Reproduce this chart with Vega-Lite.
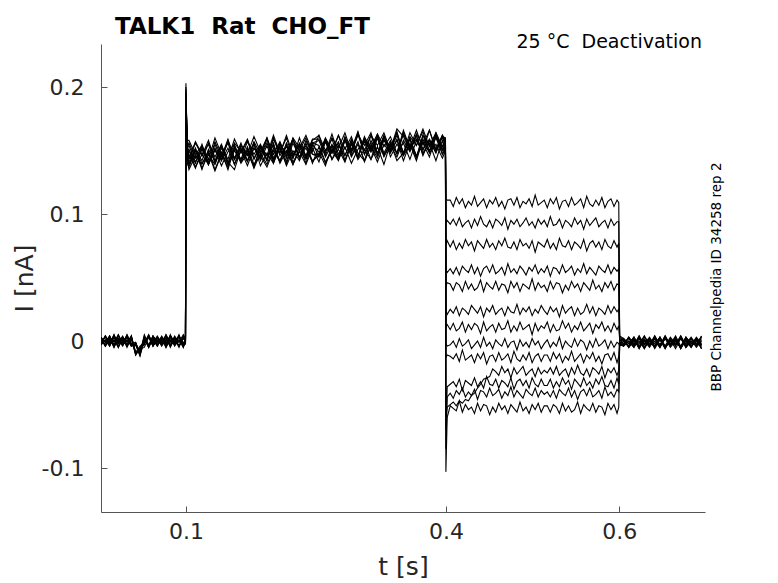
{
  "$schema": "https://vega.github.io/schema/vega-lite/v6.json",
  "width": 604,
  "height": 468,
  "autosize": {"type": "none"},
  "padding": {"left": 101, "top": 44, "right": 73, "bottom": 71},
  "background": "white",
  "title": {
    "text": "TALK1\u00a0 Rat\u00a0 CHO_FT",
    "anchor": "start",
    "frame": "group",
    "dx": 14,
    "dy": 22,
    "offset": 16,
    "font": "DejaVu Sans",
    "fontSize": 23,
    "fontWeight": "bold",
    "color": "#000000"
  },
  "config": {
    "view": {"stroke": null},
    "axis": {
      "grid": false,
      "labelFont": "DejaVu Sans",
      "titleFont": "DejaVu Sans",
      "labelColor": "#262626",
      "titleColor": "#262626",
      "domainColor": "#555555",
      "tickColor": "#555555",
      "titleFontWeight": "normal"
    }
  },
  "datasets": {
    "traces": [
{"s":1,"t":0.002,"i":0.003},{"s":1,"t":0.007,"i":-0.004},{"s":1,"t":0.012,"i":0.002},{"s":1,"t":0.017,"i":-0.005},{"s":1,"t":0.022,"i":0.004},{"s":1,"t":0.027,"i":-0.001},{"s":1,"t":0.032,"i":0.003},{"s":1,"t":0.037,"i":-0.003},{"s":1,"t":0.042,"i":-0.001},{"s":1,"t":0.047,"i":-0.010},{"s":1,"t":0.052,"i":0.001},{"s":1,"t":0.057,"i":-0.004},{"s":1,"t":0.062,"i":0.004},{"s":1,"t":0.067,"i":-0.003},{"s":1,"t":0.072,"i":0.002},{"s":1,"t":0.077,"i":-0.005},{"s":1,"t":0.082,"i":0.003},{"s":1,"t":0.087,"i":-0.001},{"s":1,"t":0.092,"i":0.004},{"s":1,"t":0.097,"i":-0.002},{"s":1,"t":0.0995,"i":0.001},
{"s":1,"t":0.1,"i":0.203},{"s":1,"t":0.1015,"i":0.152},
{"s":1,"t":0.1035,"i":0.154},{"s":1,"t":0.111,"i":0.141},{"s":1,"t":0.1185,"i":0.151},{"s":1,"t":0.126,"i":0.139},{"s":1,"t":0.1335,"i":0.157},{"s":1,"t":0.141,"i":0.145},{"s":1,"t":0.1485,"i":0.159},{"s":1,"t":0.156,"i":0.143},{"s":1,"t":0.1635,"i":0.152},{"s":1,"t":0.171,"i":0.142},{"s":1,"t":0.1785,"i":0.157},{"s":1,"t":0.186,"i":0.147},{"s":1,"t":0.1935,"i":0.160},{"s":1,"t":0.201,"i":0.144},{"s":1,"t":0.2085,"i":0.155},{"s":1,"t":0.216,"i":0.141},{"s":1,"t":0.2235,"i":0.158},{"s":1,"t":0.231,"i":0.150},{"s":1,"t":0.2385,"i":0.160},{"s":1,"t":0.246,"i":0.147},{"s":1,"t":0.2535,"i":0.145},{"s":1,"t":0.261,"i":0.157},{"s":1,"t":0.2685,"i":0.148},{"s":1,"t":0.276,"i":0.162},{"s":1,"t":0.2835,"i":0.151},{"s":1,"t":0.291,"i":0.161},{"s":1,"t":0.2985,"i":0.145},{"s":1,"t":0.306,"i":0.159},{"s":1,"t":0.3135,"i":0.149},{"s":1,"t":0.321,"i":0.163},{"s":1,"t":0.3285,"i":0.153},{"s":1,"t":0.336,"i":0.161},{"s":1,"t":0.3435,"i":0.148},{"s":1,"t":0.351,"i":0.166},{"s":1,"t":0.3585,"i":0.152},{"s":1,"t":0.366,"i":0.159},{"s":1,"t":0.3735,"i":0.150},{"s":1,"t":0.381,"i":0.166},{"s":1,"t":0.3885,"i":0.151},{"s":1,"t":0.396,"i":0.162},
{"s":1,"t":0.3995,"i":0.157},{"s":1,"t":0.4,"i":0.112},{"s":1,"t":0.4015,"i":0.111},
{"s":1,"t":0.405,"i":0.111},{"s":1,"t":0.4085,"i":0.106},{"s":1,"t":0.412,"i":0.113},{"s":1,"t":0.4155,"i":0.108},{"s":1,"t":0.419,"i":0.112},{"s":1,"t":0.4225,"i":0.105},{"s":1,"t":0.426,"i":0.110},{"s":1,"t":0.4295,"i":0.107},{"s":1,"t":0.433,"i":0.114},{"s":1,"t":0.4365,"i":0.106},{"s":1,"t":0.44,"i":0.109},{"s":1,"t":0.4435,"i":0.112},{"s":1,"t":0.447,"i":0.105},{"s":1,"t":0.4505,"i":0.111},{"s":1,"t":0.454,"i":0.108},{"s":1,"t":0.4575,"i":0.113},{"s":1,"t":0.461,"i":0.106},{"s":1,"t":0.4645,"i":0.110},{"s":1,"t":0.468,"i":0.104},{"s":1,"t":0.4715,"i":0.111},{"s":1,"t":0.475,"i":0.112},{"s":1,"t":0.4785,"i":0.107},{"s":1,"t":0.482,"i":0.113},{"s":1,"t":0.4855,"i":0.105},{"s":1,"t":0.489,"i":0.110},{"s":1,"t":0.4925,"i":0.108},{"s":1,"t":0.496,"i":0.112},{"s":1,"t":0.4995,"i":0.106},{"s":1,"t":0.503,"i":0.115},{"s":1,"t":0.5065,"i":0.107},{"s":1,"t":0.51,"i":0.109},{"s":1,"t":0.5135,"i":0.111},{"s":1,"t":0.517,"i":0.105},{"s":1,"t":0.5205,"i":0.112},{"s":1,"t":0.524,"i":0.108},{"s":1,"t":0.5275,"i":0.113},{"s":1,"t":0.531,"i":0.104},{"s":1,"t":0.5345,"i":0.110},{"s":1,"t":0.538,"i":0.111},{"s":1,"t":0.5415,"i":0.106},{"s":1,"t":0.545,"i":0.113},{"s":1,"t":0.5485,"i":0.107},{"s":1,"t":0.552,"i":0.109},{"s":1,"t":0.5555,"i":0.112},{"s":1,"t":0.559,"i":0.105},{"s":1,"t":0.5625,"i":0.114},{"s":1,"t":0.566,"i":0.108},{"s":1,"t":0.5695,"i":0.106},{"s":1,"t":0.573,"i":0.111},{"s":1,"t":0.5765,"i":0.107},{"s":1,"t":0.58,"i":0.113},{"s":1,"t":0.5835,"i":0.105},{"s":1,"t":0.587,"i":0.110},{"s":1,"t":0.5905,"i":0.112},{"s":1,"t":0.594,"i":0.106},{"s":1,"t":0.5975,"i":0.111},
{"s":1,"t":0.5995,"i":0.109},
{"s":1,"t":0.6005,"i":0.003},{"s":1,"t":0.605,"i":0.001},{"s":1,"t":0.611,"i":-0.005},{"s":1,"t":0.617,"i":0.002},{"s":1,"t":0.623,"i":-0.002},{"s":1,"t":0.629,"i":0.004},{"s":1,"t":0.635,"i":-0.004},{"s":1,"t":0.641,"i":0.000},{"s":1,"t":0.647,"i":-0.005},{"s":1,"t":0.653,"i":0.003},{"s":1,"t":0.659,"i":-0.003},{"s":1,"t":0.665,"i":0.002},{"s":1,"t":0.671,"i":-0.006},{"s":1,"t":0.677,"i":0.001},{"s":1,"t":0.683,"i":-0.004},{"s":1,"t":0.689,"i":0.003},{"s":1,"t":0.695,"i":-0.002},

{"s":2,"t":0.002,"i":-0.002},{"s":2,"t":0.007,"i":0.004},{"s":2,"t":0.012,"i":-0.003},{"s":2,"t":0.017,"i":0.001},{"s":2,"t":0.022,"i":-0.005},{"s":2,"t":0.027,"i":0.003},{"s":2,"t":0.032,"i":-0.001},{"s":2,"t":0.037,"i":0.004},{"s":2,"t":0.042,"i":-0.010},{"s":2,"t":0.047,"i":-0.006},{"s":2,"t":0.052,"i":-0.003},{"s":2,"t":0.057,"i":0.005},{"s":2,"t":0.062,"i":-0.002},{"s":2,"t":0.067,"i":0.003},{"s":2,"t":0.072,"i":-0.004},{"s":2,"t":0.077,"i":0.001},{"s":2,"t":0.082,"i":-0.003},{"s":2,"t":0.087,"i":0.004},{"s":2,"t":0.092,"i":-0.001},{"s":2,"t":0.097,"i":0.003},{"s":2,"t":0.0995,"i":-0.001},
{"s":2,"t":0.1,"i":0.195},{"s":2,"t":0.1015,"i":0.148},
{"s":2,"t":0.1035,"i":0.147},{"s":2,"t":0.111,"i":0.136},{"s":2,"t":0.1185,"i":0.152},{"s":2,"t":0.126,"i":0.141},{"s":2,"t":0.1335,"i":0.151},{"s":2,"t":0.141,"i":0.138},{"s":2,"t":0.1485,"i":0.149},{"s":2,"t":0.156,"i":0.155},{"s":2,"t":0.1635,"i":0.141},{"s":2,"t":0.171,"i":0.151},{"s":2,"t":0.1785,"i":0.137},{"s":2,"t":0.186,"i":0.154},{"s":2,"t":0.1935,"i":0.146},{"s":2,"t":0.201,"i":0.154},{"s":2,"t":0.2085,"i":0.141},{"s":2,"t":0.216,"i":0.156},{"s":2,"t":0.2235,"i":0.146},{"s":2,"t":0.231,"i":0.154},{"s":2,"t":0.2385,"i":0.140},{"s":2,"t":0.246,"i":0.156},{"s":2,"t":0.2535,"i":0.145},{"s":2,"t":0.261,"i":0.158},{"s":2,"t":0.2685,"i":0.148},{"s":2,"t":0.276,"i":0.156},{"s":2,"t":0.2835,"i":0.142},{"s":2,"t":0.291,"i":0.155},{"s":2,"t":0.2985,"i":0.145},{"s":2,"t":0.306,"i":0.158},{"s":2,"t":0.3135,"i":0.149},{"s":2,"t":0.321,"i":0.161},{"s":2,"t":0.3285,"i":0.147},{"s":2,"t":0.336,"i":0.154},{"s":2,"t":0.3435,"i":0.145},{"s":2,"t":0.351,"i":0.158},{"s":2,"t":0.3585,"i":0.149},{"s":2,"t":0.366,"i":0.162},{"s":2,"t":0.3735,"i":0.147},{"s":2,"t":0.381,"i":0.158},{"s":2,"t":0.3885,"i":0.151},{"s":2,"t":0.396,"i":0.162},
{"s":2,"t":0.3995,"i":0.152},{"s":2,"t":0.4,"i":0.093},{"s":2,"t":0.4015,"i":0.095},
{"s":2,"t":0.405,"i":0.092},{"s":2,"t":0.4085,"i":0.096},{"s":2,"t":0.412,"i":0.091},{"s":2,"t":0.4155,"i":0.097},{"s":2,"t":0.419,"i":0.090},{"s":2,"t":0.4225,"i":0.093},{"s":2,"t":0.426,"i":0.095},{"s":2,"t":0.4295,"i":0.089},{"s":2,"t":0.433,"i":0.096},{"s":2,"t":0.4365,"i":0.091},{"s":2,"t":0.44,"i":0.098},{"s":2,"t":0.4435,"i":0.092},{"s":2,"t":0.447,"i":0.090},{"s":2,"t":0.4505,"i":0.095},{"s":2,"t":0.454,"i":0.089},{"s":2,"t":0.4575,"i":0.096},{"s":2,"t":0.461,"i":0.094},{"s":2,"t":0.4645,"i":0.091},{"s":2,"t":0.468,"i":0.097},{"s":2,"t":0.4715,"i":0.088},{"s":2,"t":0.475,"i":0.095},{"s":2,"t":0.4785,"i":0.092},{"s":2,"t":0.482,"i":0.096},{"s":2,"t":0.4855,"i":0.090},{"s":2,"t":0.489,"i":0.093},{"s":2,"t":0.4925,"i":0.097},{"s":2,"t":0.496,"i":0.091},{"s":2,"t":0.4995,"i":0.094},{"s":2,"t":0.503,"i":0.089},{"s":2,"t":0.5065,"i":0.096},{"s":2,"t":0.51,"i":0.092},{"s":2,"t":0.5135,"i":0.095},{"s":2,"t":0.517,"i":0.090},{"s":2,"t":0.5205,"i":0.098},{"s":2,"t":0.524,"i":0.091},{"s":2,"t":0.5275,"i":0.092},{"s":2,"t":0.531,"i":0.096},{"s":2,"t":0.5345,"i":0.089},{"s":2,"t":0.538,"i":0.095},{"s":2,"t":0.5415,"i":0.093},{"s":2,"t":0.545,"i":0.090},{"s":2,"t":0.5485,"i":0.097},{"s":2,"t":0.552,"i":0.092},{"s":2,"t":0.5555,"i":0.095},{"s":2,"t":0.559,"i":0.088},{"s":2,"t":0.5625,"i":0.096},{"s":2,"t":0.566,"i":0.091},{"s":2,"t":0.5695,"i":0.094},{"s":2,"t":0.573,"i":0.097},{"s":2,"t":0.5765,"i":0.090},{"s":2,"t":0.58,"i":0.093},{"s":2,"t":0.5835,"i":0.095},{"s":2,"t":0.587,"i":0.089},{"s":2,"t":0.5905,"i":0.096},{"s":2,"t":0.594,"i":0.091},{"s":2,"t":0.5975,"i":0.094},
{"s":2,"t":0.5995,"i":0.094},
{"s":2,"t":0.6005,"i":-0.002},{"s":2,"t":0.605,"i":-0.003},{"s":2,"t":0.611,"i":0.003},{"s":2,"t":0.617,"i":-0.002},{"s":2,"t":0.623,"i":0.002},{"s":2,"t":0.629,"i":-0.006},{"s":2,"t":0.635,"i":0.001},{"s":2,"t":0.641,"i":-0.004},{"s":2,"t":0.647,"i":0.003},{"s":2,"t":0.653,"i":-0.005},{"s":2,"t":0.659,"i":0.000},{"s":2,"t":0.665,"i":-0.003},{"s":2,"t":0.671,"i":0.004},{"s":2,"t":0.677,"i":-0.004},{"s":2,"t":0.683,"i":0.002},{"s":2,"t":0.689,"i":-0.002},{"s":2,"t":0.695,"i":0.003},

{"s":3,"t":0.002,"i":-0.003},{"s":3,"t":0.007,"i":0.004},{"s":3,"t":0.012,"i":-0.002},{"s":3,"t":0.017,"i":0.005},{"s":3,"t":0.022,"i":-0.004},{"s":3,"t":0.027,"i":0.001},{"s":3,"t":0.032,"i":-0.003},{"s":3,"t":0.037,"i":0.003},{"s":3,"t":0.042,"i":-0.011},{"s":3,"t":0.047,"i":-0.006},{"s":3,"t":0.052,"i":-0.001},{"s":3,"t":0.057,"i":0.004},{"s":3,"t":0.062,"i":-0.004},{"s":3,"t":0.067,"i":0.003},{"s":3,"t":0.072,"i":-0.002},{"s":3,"t":0.077,"i":0.005},{"s":3,"t":0.082,"i":-0.003},{"s":3,"t":0.087,"i":0.001},{"s":3,"t":0.092,"i":-0.004},{"s":3,"t":0.097,"i":0.002},{"s":3,"t":0.0995,"i":0.002},
{"s":3,"t":0.1,"i":0.190},{"s":3,"t":0.1015,"i":0.156},
{"s":3,"t":0.1035,"i":0.143},{"s":3,"t":0.111,"i":0.156},{"s":3,"t":0.1185,"i":0.146},{"s":3,"t":0.126,"i":0.158},{"s":3,"t":0.1335,"i":0.142},{"s":3,"t":0.141,"i":0.154},{"s":3,"t":0.1485,"i":0.140},{"s":3,"t":0.156,"i":0.156},{"s":3,"t":0.1635,"i":0.149},{"s":3,"t":0.171,"i":0.159},{"s":3,"t":0.1785,"i":0.144},{"s":3,"t":0.186,"i":0.154},{"s":3,"t":0.1935,"i":0.143},{"s":3,"t":0.201,"i":0.159},{"s":3,"t":0.2085,"i":0.148},{"s":3,"t":0.216,"i":0.162},{"s":3,"t":0.2235,"i":0.147},{"s":3,"t":0.231,"i":0.155},{"s":3,"t":0.2385,"i":0.145},{"s":3,"t":0.246,"i":0.158},{"s":3,"t":0.2535,"i":0.162},{"s":3,"t":0.261,"i":0.150},{"s":3,"t":0.2685,"i":0.159},{"s":3,"t":0.276,"i":0.145},{"s":3,"t":0.2835,"i":0.158},{"s":3,"t":0.291,"i":0.148},{"s":3,"t":0.2985,"i":0.164},{"s":3,"t":0.306,"i":0.150},{"s":3,"t":0.3135,"i":0.162},{"s":3,"t":0.321,"i":0.148},{"s":3,"t":0.3285,"i":0.158},{"s":3,"t":0.336,"i":0.150},{"s":3,"t":0.3435,"i":0.165},{"s":3,"t":0.351,"i":0.147},{"s":3,"t":0.3585,"i":0.161},{"s":3,"t":0.366,"i":0.154},{"s":3,"t":0.3735,"i":0.165},{"s":3,"t":0.381,"i":0.149},{"s":3,"t":0.3885,"i":0.164},{"s":3,"t":0.396,"i":0.153},
{"s":3,"t":0.3995,"i":0.160},{"s":3,"t":0.4,"i":0.076},{"s":3,"t":0.4015,"i":0.079},
{"s":3,"t":0.405,"i":0.074},{"s":3,"t":0.4085,"i":0.079},{"s":3,"t":0.412,"i":0.072},{"s":3,"t":0.4155,"i":0.077},{"s":3,"t":0.419,"i":0.073},{"s":3,"t":0.4225,"i":0.080},{"s":3,"t":0.426,"i":0.075},{"s":3,"t":0.4295,"i":0.078},{"s":3,"t":0.433,"i":0.071},{"s":3,"t":0.4365,"i":0.079},{"s":3,"t":0.44,"i":0.076},{"s":3,"t":0.4435,"i":0.073},{"s":3,"t":0.447,"i":0.080},{"s":3,"t":0.4505,"i":0.074},{"s":3,"t":0.454,"i":0.077},{"s":3,"t":0.4575,"i":0.072},{"s":3,"t":0.461,"i":0.079},{"s":3,"t":0.4645,"i":0.075},{"s":3,"t":0.468,"i":0.081},{"s":3,"t":0.4715,"i":0.074},{"s":3,"t":0.475,"i":0.073},{"s":3,"t":0.4785,"i":0.078},{"s":3,"t":0.482,"i":0.072},{"s":3,"t":0.4855,"i":0.080},{"s":3,"t":0.489,"i":0.075},{"s":3,"t":0.4925,"i":0.077},{"s":3,"t":0.496,"i":0.073},{"s":3,"t":0.4995,"i":0.079},{"s":3,"t":0.503,"i":0.070},{"s":3,"t":0.5065,"i":0.078},{"s":3,"t":0.51,"i":0.076},{"s":3,"t":0.5135,"i":0.074},{"s":3,"t":0.517,"i":0.080},{"s":3,"t":0.5205,"i":0.073},{"s":3,"t":0.524,"i":0.077},{"s":3,"t":0.5275,"i":0.072},{"s":3,"t":0.531,"i":0.081},{"s":3,"t":0.5345,"i":0.075},{"s":3,"t":0.538,"i":0.074},{"s":3,"t":0.5415,"i":0.079},{"s":3,"t":0.545,"i":0.072},{"s":3,"t":0.5485,"i":0.078},{"s":3,"t":0.552,"i":0.076},{"s":3,"t":0.5555,"i":0.073},{"s":3,"t":0.559,"i":0.080},{"s":3,"t":0.5625,"i":0.071},{"s":3,"t":0.566,"i":0.077},{"s":3,"t":0.5695,"i":0.079},{"s":3,"t":0.573,"i":0.074},{"s":3,"t":0.5765,"i":0.078},{"s":3,"t":0.58,"i":0.072},{"s":3,"t":0.5835,"i":0.080},{"s":3,"t":0.587,"i":0.075},{"s":3,"t":0.5905,"i":0.073},{"s":3,"t":0.594,"i":0.079},{"s":3,"t":0.5975,"i":0.074},
{"s":3,"t":0.5995,"i":0.077},
{"s":3,"t":0.6005,"i":0.004},{"s":3,"t":0.605,"i":0.002},{"s":3,"t":0.611,"i":-0.002},{"s":3,"t":0.617,"i":0.003},{"s":3,"t":0.623,"i":-0.004},{"s":3,"t":0.629,"i":0.000},{"s":3,"t":0.635,"i":-0.005},{"s":3,"t":0.641,"i":0.002},{"s":3,"t":0.647,"i":-0.003},{"s":3,"t":0.653,"i":0.004},{"s":3,"t":0.659,"i":-0.004},{"s":3,"t":0.665,"i":0.001},{"s":3,"t":0.671,"i":-0.005},{"s":3,"t":0.677,"i":0.003},{"s":3,"t":0.683,"i":-0.002},{"s":3,"t":0.689,"i":0.002},{"s":3,"t":0.695,"i":-0.006},

{"s":4,"t":0.002,"i":0.002},{"s":4,"t":0.007,"i":-0.004},{"s":4,"t":0.012,"i":0.003},{"s":4,"t":0.017,"i":-0.001},{"s":4,"t":0.022,"i":0.005},{"s":4,"t":0.027,"i":-0.003},{"s":4,"t":0.032,"i":0.001},{"s":4,"t":0.037,"i":-0.004},{"s":4,"t":0.042,"i":-0.002},{"s":4,"t":0.047,"i":-0.010},{"s":4,"t":0.052,"i":0.003},{"s":4,"t":0.057,"i":-0.005},{"s":4,"t":0.062,"i":0.002},{"s":4,"t":0.067,"i":-0.003},{"s":4,"t":0.072,"i":0.004},{"s":4,"t":0.077,"i":-0.001},{"s":4,"t":0.082,"i":0.003},{"s":4,"t":0.087,"i":-0.004},{"s":4,"t":0.092,"i":0.001},{"s":4,"t":0.097,"i":-0.003},{"s":4,"t":0.0995,"i":-0.002},
{"s":4,"t":0.1,"i":0.198},{"s":4,"t":0.1015,"i":0.142},
{"s":4,"t":0.1035,"i":0.141},{"s":4,"t":0.111,"i":0.152},{"s":4,"t":0.1185,"i":0.136},{"s":4,"t":0.126,"i":0.147},{"s":4,"t":0.1335,"i":0.139},{"s":4,"t":0.141,"i":0.152},{"s":4,"t":0.1485,"i":0.141},{"s":4,"t":0.156,"i":0.135},{"s":4,"t":0.1635,"i":0.151},{"s":4,"t":0.171,"i":0.141},{"s":4,"t":0.1785,"i":0.155},{"s":4,"t":0.186,"i":0.138},{"s":4,"t":0.1935,"i":0.148},{"s":4,"t":0.201,"i":0.140},{"s":4,"t":0.2085,"i":0.153},{"s":4,"t":0.216,"i":0.138},{"s":4,"t":0.2235,"i":0.150},{"s":4,"t":0.231,"i":0.142},{"s":4,"t":0.2385,"i":0.156},{"s":4,"t":0.246,"i":0.140},{"s":4,"t":0.2535,"i":0.153},{"s":4,"t":0.261,"i":0.140},{"s":4,"t":0.2685,"i":0.150},{"s":4,"t":0.276,"i":0.142},{"s":4,"t":0.2835,"i":0.158},{"s":4,"t":0.291,"i":0.145},{"s":4,"t":0.2985,"i":0.155},{"s":4,"t":0.306,"i":0.142},{"s":4,"t":0.3135,"i":0.153},{"s":4,"t":0.321,"i":0.141},{"s":4,"t":0.3285,"i":0.155},{"s":4,"t":0.336,"i":0.148},{"s":4,"t":0.3435,"i":0.159},{"s":4,"t":0.351,"i":0.146},{"s":4,"t":0.3585,"i":0.155},{"s":4,"t":0.366,"i":0.142},{"s":4,"t":0.3735,"i":0.159},{"s":4,"t":0.381,"i":0.148},{"s":4,"t":0.3885,"i":0.155},{"s":4,"t":0.396,"i":0.144},
{"s":4,"t":0.3995,"i":0.150},{"s":4,"t":0.4,"i":0.056},{"s":4,"t":0.4015,"i":0.054},
{"s":4,"t":0.405,"i":0.057},{"s":4,"t":0.4085,"i":0.053},{"s":4,"t":0.412,"i":0.058},{"s":4,"t":0.4155,"i":0.052},{"s":4,"t":0.419,"i":0.059},{"s":4,"t":0.4225,"i":0.056},{"s":4,"t":0.426,"i":0.054},{"s":4,"t":0.4295,"i":0.060},{"s":4,"t":0.433,"i":0.053},{"s":4,"t":0.4365,"i":0.058},{"s":4,"t":0.44,"i":0.051},{"s":4,"t":0.4435,"i":0.057},{"s":4,"t":0.447,"i":0.059},{"s":4,"t":0.4505,"i":0.054},{"s":4,"t":0.454,"i":0.060},{"s":4,"t":0.4575,"i":0.053},{"s":4,"t":0.461,"i":0.055},{"s":4,"t":0.4645,"i":0.058},{"s":4,"t":0.468,"i":0.052},{"s":4,"t":0.4715,"i":0.061},{"s":4,"t":0.475,"i":0.054},{"s":4,"t":0.4785,"i":0.057},{"s":4,"t":0.482,"i":0.053},{"s":4,"t":0.4855,"i":0.059},{"s":4,"t":0.489,"i":0.056},{"s":4,"t":0.4925,"i":0.052},{"s":4,"t":0.496,"i":0.058},{"s":4,"t":0.4995,"i":0.055},{"s":4,"t":0.503,"i":0.060},{"s":4,"t":0.5065,"i":0.053},{"s":4,"t":0.51,"i":0.057},{"s":4,"t":0.5135,"i":0.054},{"s":4,"t":0.517,"i":0.059},{"s":4,"t":0.5205,"i":0.051},{"s":4,"t":0.524,"i":0.058},{"s":4,"t":0.5275,"i":0.057},{"s":4,"t":0.531,"i":0.053},{"s":4,"t":0.5345,"i":0.060},{"s":4,"t":0.538,"i":0.054},{"s":4,"t":0.5415,"i":0.056},{"s":4,"t":0.545,"i":0.059},{"s":4,"t":0.5485,"i":0.052},{"s":4,"t":0.552,"i":0.057},{"s":4,"t":0.5555,"i":0.054},{"s":4,"t":0.559,"i":0.061},{"s":4,"t":0.5625,"i":0.053},{"s":4,"t":0.566,"i":0.058},{"s":4,"t":0.5695,"i":0.055},{"s":4,"t":0.573,"i":0.052},{"s":4,"t":0.5765,"i":0.059},{"s":4,"t":0.58,"i":0.056},{"s":4,"t":0.5835,"i":0.054},{"s":4,"t":0.587,"i":0.060},{"s":4,"t":0.5905,"i":0.053},{"s":4,"t":0.594,"i":0.058},{"s":4,"t":0.5975,"i":0.055},
{"s":4,"t":0.5995,"i":0.057},
{"s":4,"t":0.6005,"i":0.000},{"s":4,"t":0.605,"i":0.001},{"s":4,"t":0.611,"i":-0.005},{"s":4,"t":0.617,"i":0.000},{"s":4,"t":0.623,"i":-0.004},{"s":4,"t":0.629,"i":0.004},{"s":4,"t":0.635,"i":-0.003},{"s":4,"t":0.641,"i":0.002},{"s":4,"t":0.647,"i":-0.005},{"s":4,"t":0.653,"i":0.003},{"s":4,"t":0.659,"i":-0.002},{"s":4,"t":0.665,"i":0.001},{"s":4,"t":0.671,"i":-0.006},{"s":4,"t":0.677,"i":0.002},{"s":4,"t":0.683,"i":-0.004},{"s":4,"t":0.689,"i":0.000},{"s":4,"t":0.695,"i":-0.005},

{"s":5,"t":0.002,"i":-0.002},{"s":5,"t":0.007,"i":0.004},{"s":5,"t":0.012,"i":-0.001},{"s":5,"t":0.017,"i":0.003},{"s":5,"t":0.022,"i":-0.005},{"s":5,"t":0.027,"i":0.002},{"s":5,"t":0.032,"i":-0.003},{"s":5,"t":0.037,"i":0.004},{"s":5,"t":0.042,"i":-0.010},{"s":5,"t":0.047,"i":-0.007},{"s":5,"t":0.052,"i":-0.002},{"s":5,"t":0.057,"i":0.005},{"s":5,"t":0.062,"i":-0.003},{"s":5,"t":0.067,"i":0.003},{"s":5,"t":0.072,"i":-0.001},{"s":5,"t":0.077,"i":0.004},{"s":5,"t":0.082,"i":-0.005},{"s":5,"t":0.087,"i":0.002},{"s":5,"t":0.092,"i":-0.004},{"s":5,"t":0.097,"i":0.003},{"s":5,"t":0.0995,"i":0.000},
{"s":5,"t":0.1,"i":0.185},{"s":5,"t":0.1015,"i":0.150},
{"s":5,"t":0.1035,"i":0.151},{"s":5,"t":0.111,"i":0.140},{"s":5,"t":0.1185,"i":0.155},{"s":5,"t":0.126,"i":0.139},{"s":5,"t":0.1335,"i":0.150},{"s":5,"t":0.141,"i":0.143},{"s":5,"t":0.1485,"i":0.157},{"s":5,"t":0.156,"i":0.139},{"s":5,"t":0.1635,"i":0.154},{"s":5,"t":0.171,"i":0.146},{"s":5,"t":0.1785,"i":0.156},{"s":5,"t":0.186,"i":0.142},{"s":5,"t":0.1935,"i":0.154},{"s":5,"t":0.201,"i":0.140},{"s":5,"t":0.2085,"i":0.156},{"s":5,"t":0.216,"i":0.146},{"s":5,"t":0.2235,"i":0.159},{"s":5,"t":0.231,"i":0.145},{"s":5,"t":0.2385,"i":0.154},{"s":5,"t":0.246,"i":0.142},{"s":5,"t":0.2535,"i":0.146},{"s":5,"t":0.261,"i":0.159},{"s":5,"t":0.2685,"i":0.149},{"s":5,"t":0.276,"i":0.157},{"s":5,"t":0.2835,"i":0.142},{"s":5,"t":0.291,"i":0.156},{"s":5,"t":0.2985,"i":0.145},{"s":5,"t":0.306,"i":0.161},{"s":5,"t":0.3135,"i":0.150},{"s":5,"t":0.321,"i":0.160},{"s":5,"t":0.3285,"i":0.145},{"s":5,"t":0.336,"i":0.155},{"s":5,"t":0.3435,"i":0.148},{"s":5,"t":0.351,"i":0.164},{"s":5,"t":0.3585,"i":0.150},{"s":5,"t":0.366,"i":0.162},{"s":5,"t":0.3735,"i":0.146},{"s":5,"t":0.381,"i":0.158},{"s":5,"t":0.3885,"i":0.148},{"s":5,"t":0.396,"i":0.161},
{"s":5,"t":0.3995,"i":0.155},{"s":5,"t":0.4,"i":0.043},{"s":5,"t":0.4015,"i":0.046},
{"s":5,"t":0.405,"i":0.045},{"s":5,"t":0.4085,"i":0.040},{"s":5,"t":0.412,"i":0.046},{"s":5,"t":0.4155,"i":0.044},{"s":5,"t":0.419,"i":0.039},{"s":5,"t":0.4225,"i":0.047},{"s":5,"t":0.426,"i":0.041},{"s":5,"t":0.4295,"i":0.045},{"s":5,"t":0.433,"i":0.040},{"s":5,"t":0.4365,"i":0.042},{"s":5,"t":0.44,"i":0.048},{"s":5,"t":0.4435,"i":0.039},{"s":5,"t":0.447,"i":0.046},{"s":5,"t":0.4505,"i":0.043},{"s":5,"t":0.454,"i":0.041},{"s":5,"t":0.4575,"i":0.047},{"s":5,"t":0.461,"i":0.040},{"s":5,"t":0.4645,"i":0.045},{"s":5,"t":0.468,"i":0.044},{"s":5,"t":0.4715,"i":0.038},{"s":5,"t":0.475,"i":0.047},{"s":5,"t":0.4785,"i":0.042},{"s":5,"t":0.482,"i":0.046},{"s":5,"t":0.4855,"i":0.039},{"s":5,"t":0.489,"i":0.045},{"s":5,"t":0.4925,"i":0.043},{"s":5,"t":0.496,"i":0.041},{"s":5,"t":0.4995,"i":0.049},{"s":5,"t":0.503,"i":0.040},{"s":5,"t":0.5065,"i":0.046},{"s":5,"t":0.51,"i":0.042},{"s":5,"t":0.5135,"i":0.044},{"s":5,"t":0.517,"i":0.039},{"s":5,"t":0.5205,"i":0.047},{"s":5,"t":0.524,"i":0.041},{"s":5,"t":0.5275,"i":0.046},{"s":5,"t":0.531,"i":0.045},{"s":5,"t":0.5345,"i":0.038},{"s":5,"t":0.538,"i":0.044},{"s":5,"t":0.5415,"i":0.040},{"s":5,"t":0.545,"i":0.047},{"s":5,"t":0.5485,"i":0.042},{"s":5,"t":0.552,"i":0.045},{"s":5,"t":0.5555,"i":0.039},{"s":5,"t":0.559,"i":0.046},{"s":5,"t":0.5625,"i":0.043},{"s":5,"t":0.566,"i":0.040},{"s":5,"t":0.5695,"i":0.048},{"s":5,"t":0.573,"i":0.041},{"s":5,"t":0.5765,"i":0.044},{"s":5,"t":0.58,"i":0.039},{"s":5,"t":0.5835,"i":0.046},{"s":5,"t":0.587,"i":0.042},{"s":5,"t":0.5905,"i":0.047},{"s":5,"t":0.594,"i":0.040},{"s":5,"t":0.5975,"i":0.045},
{"s":5,"t":0.5995,"i":0.044},
{"s":5,"t":0.6005,"i":-0.003},{"s":5,"t":0.605,"i":-0.004},{"s":5,"t":0.611,"i":0.000},{"s":5,"t":0.617,"i":-0.005},{"s":5,"t":0.623,"i":0.002},{"s":5,"t":0.629,"i":-0.002},{"s":5,"t":0.635,"i":0.003},{"s":5,"t":0.641,"i":-0.004},{"s":5,"t":0.647,"i":0.001},{"s":5,"t":0.653,"i":-0.006},{"s":5,"t":0.659,"i":0.002},{"s":5,"t":0.665,"i":-0.003},{"s":5,"t":0.671,"i":0.003},{"s":5,"t":0.677,"i":-0.005},{"s":5,"t":0.683,"i":0.000},{"s":5,"t":0.689,"i":-0.004},{"s":5,"t":0.695,"i":0.004},

{"s":6,"t":0.002,"i":0.003},{"s":6,"t":0.007,"i":-0.001},{"s":6,"t":0.012,"i":0.004},{"s":6,"t":0.017,"i":-0.003},{"s":6,"t":0.022,"i":0.001},{"s":6,"t":0.027,"i":-0.004},{"s":6,"t":0.032,"i":0.003},{"s":6,"t":0.037,"i":-0.002},{"s":6,"t":0.042,"i":-0.001},{"s":6,"t":0.047,"i":-0.011},{"s":6,"t":0.052,"i":0.002},{"s":6,"t":0.057,"i":-0.004},{"s":6,"t":0.062,"i":0.004},{"s":6,"t":0.067,"i":-0.001},{"s":6,"t":0.072,"i":0.003},{"s":6,"t":0.077,"i":-0.005},{"s":6,"t":0.082,"i":0.001},{"s":6,"t":0.087,"i":-0.003},{"s":6,"t":0.092,"i":0.004},{"s":6,"t":0.097,"i":-0.002},{"s":6,"t":0.0995,"i":0.002},
{"s":6,"t":0.1,"i":0.192},{"s":6,"t":0.1015,"i":0.158},
{"s":6,"t":0.1035,"i":0.158},{"s":6,"t":0.111,"i":0.147},{"s":6,"t":0.1185,"i":0.154},{"s":6,"t":0.126,"i":0.143},{"s":6,"t":0.1335,"i":0.160},{"s":6,"t":0.141,"i":0.147},{"s":6,"t":0.1485,"i":0.156},{"s":6,"t":0.156,"i":0.143},{"s":6,"t":0.1635,"i":0.154},{"s":6,"t":0.171,"i":0.147},{"s":6,"t":0.1785,"i":0.161},{"s":6,"t":0.186,"i":0.149},{"s":6,"t":0.1935,"i":0.160},{"s":6,"t":0.201,"i":0.147},{"s":6,"t":0.2085,"i":0.157},{"s":6,"t":0.216,"i":0.144},{"s":6,"t":0.2235,"i":0.160},{"s":6,"t":0.231,"i":0.152},{"s":6,"t":0.2385,"i":0.162},{"s":6,"t":0.246,"i":0.149},{"s":6,"t":0.2535,"i":0.162},{"s":6,"t":0.261,"i":0.146},{"s":6,"t":0.2685,"i":0.160},{"s":6,"t":0.276,"i":0.152},{"s":6,"t":0.2835,"i":0.164},{"s":6,"t":0.291,"i":0.149},{"s":6,"t":0.2985,"i":0.162},{"s":6,"t":0.306,"i":0.154},{"s":6,"t":0.3135,"i":0.164},{"s":6,"t":0.321,"i":0.147},{"s":6,"t":0.3285,"i":0.161},{"s":6,"t":0.336,"i":0.151},{"s":6,"t":0.3435,"i":0.167},{"s":6,"t":0.351,"i":0.161},{"s":6,"t":0.3585,"i":0.150},{"s":6,"t":0.366,"i":0.163},{"s":6,"t":0.3735,"i":0.155},{"s":6,"t":0.381,"i":0.166},{"s":6,"t":0.3885,"i":0.150},{"s":6,"t":0.396,"i":0.161},
{"s":6,"t":0.3995,"i":0.160},{"s":6,"t":0.4,"i":0.024},{"s":6,"t":0.4015,"i":0.021},
{"s":6,"t":0.405,"i":0.025},{"s":6,"t":0.4085,"i":0.022},{"s":6,"t":0.412,"i":0.027},{"s":6,"t":0.4155,"i":0.020},{"s":6,"t":0.419,"i":0.026},{"s":6,"t":0.4225,"i":0.024},{"s":6,"t":0.426,"i":0.021},{"s":6,"t":0.4295,"i":0.028},{"s":6,"t":0.433,"i":0.025},{"s":6,"t":0.4365,"i":0.022},{"s":6,"t":0.44,"i":0.027},{"s":6,"t":0.4435,"i":0.019},{"s":6,"t":0.447,"i":0.026},{"s":6,"t":0.4505,"i":0.023},{"s":6,"t":0.454,"i":0.028},{"s":6,"t":0.4575,"i":0.021},{"s":6,"t":0.461,"i":0.024},{"s":6,"t":0.4645,"i":0.026},{"s":6,"t":0.468,"i":0.020},{"s":6,"t":0.4715,"i":0.027},{"s":6,"t":0.475,"i":0.023},{"s":6,"t":0.4785,"i":0.022},{"s":6,"t":0.482,"i":0.029},{"s":6,"t":0.4855,"i":0.021},{"s":6,"t":0.489,"i":0.026},{"s":6,"t":0.4925,"i":0.023},{"s":6,"t":0.496,"i":0.027},{"s":6,"t":0.4995,"i":0.020},{"s":6,"t":0.503,"i":0.025},{"s":6,"t":0.5065,"i":0.022},{"s":6,"t":0.51,"i":0.028},{"s":6,"t":0.5135,"i":0.024},{"s":6,"t":0.517,"i":0.021},{"s":6,"t":0.5205,"i":0.027},{"s":6,"t":0.524,"i":0.023},{"s":6,"t":0.5275,"i":0.026},{"s":6,"t":0.531,"i":0.019},{"s":6,"t":0.5345,"i":0.028},{"s":6,"t":0.538,"i":0.022},{"s":6,"t":0.5415,"i":0.025},{"s":6,"t":0.545,"i":0.027},{"s":6,"t":0.5485,"i":0.020},{"s":6,"t":0.552,"i":0.026},{"s":6,"t":0.5555,"i":0.021},{"s":6,"t":0.559,"i":0.023},{"s":6,"t":0.5625,"i":0.029},{"s":6,"t":0.566,"i":0.022},{"s":6,"t":0.5695,"i":0.027},{"s":6,"t":0.573,"i":0.020},{"s":6,"t":0.5765,"i":0.026},{"s":6,"t":0.58,"i":0.024},{"s":6,"t":0.5835,"i":0.021},{"s":6,"t":0.587,"i":0.028},{"s":6,"t":0.5905,"i":0.022},{"s":6,"t":0.594,"i":0.027},{"s":6,"t":0.5975,"i":0.023},
{"s":6,"t":0.5995,"i":0.025},
{"s":6,"t":0.6005,"i":0.002},{"s":6,"t":0.605,"i":-0.002},{"s":6,"t":0.611,"i":0.002},{"s":6,"t":0.617,"i":-0.004},{"s":6,"t":0.623,"i":0.004},{"s":6,"t":0.629,"i":-0.003},{"s":6,"t":0.635,"i":0.000},{"s":6,"t":0.641,"i":-0.005},{"s":6,"t":0.647,"i":0.003},{"s":6,"t":0.653,"i":-0.004},{"s":6,"t":0.659,"i":0.001},{"s":6,"t":0.665,"i":-0.006},{"s":6,"t":0.671,"i":0.002},{"s":6,"t":0.677,"i":-0.002},{"s":6,"t":0.683,"i":0.003},{"s":6,"t":0.689,"i":-0.003},{"s":6,"t":0.695,"i":0.002},

{"s":7,"t":0.002,"i":0.002},{"s":7,"t":0.007,"i":-0.004},{"s":7,"t":0.012,"i":0.001},{"s":7,"t":0.017,"i":-0.003},{"s":7,"t":0.022,"i":0.005},{"s":7,"t":0.027,"i":-0.002},{"s":7,"t":0.032,"i":0.003},{"s":7,"t":0.037,"i":-0.004},{"s":7,"t":0.042,"i":-0.002},{"s":7,"t":0.047,"i":-0.009},{"s":7,"t":0.052,"i":0.002},{"s":7,"t":0.057,"i":-0.005},{"s":7,"t":0.062,"i":0.003},{"s":7,"t":0.067,"i":-0.003},{"s":7,"t":0.072,"i":0.001},{"s":7,"t":0.077,"i":-0.004},{"s":7,"t":0.082,"i":0.005},{"s":7,"t":0.087,"i":-0.002},{"s":7,"t":0.092,"i":0.004},{"s":7,"t":0.097,"i":-0.003},{"s":7,"t":0.0995,"i":-0.002},
{"s":7,"t":0.1,"i":0.188},{"s":7,"t":0.1015,"i":0.145},
{"s":7,"t":0.1035,"i":0.139},{"s":7,"t":0.111,"i":0.150},{"s":7,"t":0.1185,"i":0.135},{"s":7,"t":0.126,"i":0.151},{"s":7,"t":0.1335,"i":0.142},{"s":7,"t":0.141,"i":0.149},{"s":7,"t":0.1485,"i":0.135},{"s":7,"t":0.156,"i":0.153},{"s":7,"t":0.1635,"i":0.140},{"s":7,"t":0.171,"i":0.148},{"s":7,"t":0.1785,"i":0.138},{"s":7,"t":0.186,"i":0.152},{"s":7,"t":0.1935,"i":0.142},{"s":7,"t":0.201,"i":0.156},{"s":7,"t":0.2085,"i":0.140},{"s":7,"t":0.216,"i":0.150},{"s":7,"t":0.2235,"i":0.139},{"s":7,"t":0.231,"i":0.153},{"s":7,"t":0.2385,"i":0.144},{"s":7,"t":0.246,"i":0.156},{"s":7,"t":0.2535,"i":0.154},{"s":7,"t":0.261,"i":0.141},{"s":7,"t":0.2685,"i":0.151},{"s":7,"t":0.276,"i":0.143},{"s":7,"t":0.2835,"i":0.160},{"s":7,"t":0.291,"i":0.146},{"s":7,"t":0.2985,"i":0.157},{"s":7,"t":0.306,"i":0.141},{"s":7,"t":0.3135,"i":0.154},{"s":7,"t":0.321,"i":0.144},{"s":7,"t":0.3285,"i":0.159},{"s":7,"t":0.336,"i":0.149},{"s":7,"t":0.3435,"i":0.158},{"s":7,"t":0.351,"i":0.142},{"s":7,"t":0.3585,"i":0.156},{"s":7,"t":0.366,"i":0.144},{"s":7,"t":0.3735,"i":0.162},{"s":7,"t":0.381,"i":0.150},{"s":7,"t":0.3885,"i":0.160},{"s":7,"t":0.396,"i":0.147},
{"s":7,"t":0.3995,"i":0.151},{"s":7,"t":0.4,"i":0.011},{"s":7,"t":0.4015,"i":0.013},
{"s":7,"t":0.405,"i":0.009},{"s":7,"t":0.4085,"i":0.014},{"s":7,"t":0.412,"i":0.008},{"s":7,"t":0.4155,"i":0.010},{"s":7,"t":0.419,"i":0.015},{"s":7,"t":0.4225,"i":0.007},{"s":7,"t":0.426,"i":0.013},{"s":7,"t":0.4295,"i":0.009},{"s":7,"t":0.433,"i":0.014},{"s":7,"t":0.4365,"i":0.012},{"s":7,"t":0.44,"i":0.006},{"s":7,"t":0.4435,"i":0.015},{"s":7,"t":0.447,"i":0.008},{"s":7,"t":0.4505,"i":0.011},{"s":7,"t":0.454,"i":0.013},{"s":7,"t":0.4575,"i":0.007},{"s":7,"t":0.461,"i":0.014},{"s":7,"t":0.4645,"i":0.009},{"s":7,"t":0.468,"i":0.010},{"s":7,"t":0.4715,"i":0.016},{"s":7,"t":0.475,"i":0.007},{"s":7,"t":0.4785,"i":0.012},{"s":7,"t":0.482,"i":0.008},{"s":7,"t":0.4855,"i":0.015},{"s":7,"t":0.489,"i":0.009},{"s":7,"t":0.4925,"i":0.011},{"s":7,"t":0.496,"i":0.013},{"s":7,"t":0.4995,"i":0.005},{"s":7,"t":0.503,"i":0.014},{"s":7,"t":0.5065,"i":0.008},{"s":7,"t":0.51,"i":0.012},{"s":7,"t":0.5135,"i":0.010},{"s":7,"t":0.517,"i":0.015},{"s":7,"t":0.5205,"i":0.007},{"s":7,"t":0.524,"i":0.013},{"s":7,"t":0.5275,"i":0.008},{"s":7,"t":0.531,"i":0.009},{"s":7,"t":0.5345,"i":0.016},{"s":7,"t":0.538,"i":0.010},{"s":7,"t":0.5415,"i":0.014},{"s":7,"t":0.545,"i":0.007},{"s":7,"t":0.5485,"i":0.012},{"s":7,"t":0.552,"i":0.009},{"s":7,"t":0.5555,"i":0.015},{"s":7,"t":0.559,"i":0.008},{"s":7,"t":0.5625,"i":0.011},{"s":7,"t":0.566,"i":0.014},{"s":7,"t":0.5695,"i":0.006},{"s":7,"t":0.573,"i":0.013},{"s":7,"t":0.5765,"i":0.010},{"s":7,"t":0.58,"i":0.015},{"s":7,"t":0.5835,"i":0.008},{"s":7,"t":0.587,"i":0.012},{"s":7,"t":0.5905,"i":0.007},{"s":7,"t":0.594,"i":0.014},{"s":7,"t":0.5975,"i":0.009},
{"s":7,"t":0.5995,"i":0.012},
{"s":7,"t":0.6005,"i":0.001},{"s":7,"t":0.605,"i":0.002},{"s":7,"t":0.611,"i":-0.002},{"s":7,"t":0.617,"i":0.003},{"s":7,"t":0.623,"i":-0.005},{"s":7,"t":0.629,"i":0.001},{"s":7,"t":0.635,"i":-0.004},{"s":7,"t":0.641,"i":0.004},{"s":7,"t":0.647,"i":-0.003},{"s":7,"t":0.653,"i":0.002},{"s":7,"t":0.659,"i":-0.005},{"s":7,"t":0.665,"i":0.000},{"s":7,"t":0.671,"i":-0.004},{"s":7,"t":0.677,"i":0.003},{"s":7,"t":0.683,"i":-0.002},{"s":7,"t":0.689,"i":0.002},{"s":7,"t":0.695,"i":-0.003},

{"s":8,"t":0.002,"i":-0.003},{"s":8,"t":0.007,"i":0.001},{"s":8,"t":0.012,"i":-0.004},{"s":8,"t":0.017,"i":0.003},{"s":8,"t":0.022,"i":-0.001},{"s":8,"t":0.027,"i":0.004},{"s":8,"t":0.032,"i":-0.003},{"s":8,"t":0.037,"i":0.002},{"s":8,"t":0.042,"i":-0.011},{"s":8,"t":0.047,"i":-0.005},{"s":8,"t":0.052,"i":-0.002},{"s":8,"t":0.057,"i":0.004},{"s":8,"t":0.062,"i":-0.004},{"s":8,"t":0.067,"i":0.001},{"s":8,"t":0.072,"i":-0.003},{"s":8,"t":0.077,"i":0.005},{"s":8,"t":0.082,"i":-0.001},{"s":8,"t":0.087,"i":0.003},{"s":8,"t":0.092,"i":-0.004},{"s":8,"t":0.097,"i":0.002},{"s":8,"t":0.0995,"i":0.001},
{"s":8,"t":0.1,"i":0.200},{"s":8,"t":0.1015,"i":0.150},
{"s":8,"t":0.1035,"i":0.139},{"s":8,"t":0.111,"i":0.151},{"s":8,"t":0.1185,"i":0.142},{"s":8,"t":0.126,"i":0.156},{"s":8,"t":0.1335,"i":0.145},{"s":8,"t":0.141,"i":0.155},{"s":8,"t":0.1485,"i":0.139},{"s":8,"t":0.156,"i":0.153},{"s":8,"t":0.1635,"i":0.143},{"s":8,"t":0.171,"i":0.157},{"s":8,"t":0.1785,"i":0.147},{"s":8,"t":0.186,"i":0.155},{"s":8,"t":0.1935,"i":0.142},{"s":8,"t":0.201,"i":0.160},{"s":8,"t":0.2085,"i":0.146},{"s":8,"t":0.216,"i":0.153},{"s":8,"t":0.2235,"i":0.144},{"s":8,"t":0.231,"i":0.160},{"s":8,"t":0.2385,"i":0.145},{"s":8,"t":0.246,"i":0.156},{"s":8,"t":0.2535,"i":0.158},{"s":8,"t":0.261,"i":0.145},{"s":8,"t":0.2685,"i":0.155},{"s":8,"t":0.276,"i":0.143},{"s":8,"t":0.2835,"i":0.161},{"s":8,"t":0.291,"i":0.149},{"s":8,"t":0.2985,"i":0.163},{"s":8,"t":0.306,"i":0.147},{"s":8,"t":0.3135,"i":0.156},{"s":8,"t":0.321,"i":0.146},{"s":8,"t":0.3285,"i":0.161},{"s":8,"t":0.336,"i":0.151},{"s":8,"t":0.3435,"i":0.164},{"s":8,"t":0.351,"i":0.148},{"s":8,"t":0.3585,"i":0.159},{"s":8,"t":0.366,"i":0.145},{"s":8,"t":0.3735,"i":0.162},{"s":8,"t":0.381,"i":0.154},{"s":8,"t":0.3885,"i":0.164},{"s":8,"t":0.396,"i":0.151},
{"s":8,"t":0.3995,"i":0.153},{"s":8,"t":0.4,"i":-0.002},{"s":8,"t":0.4015,"i":-0.004},
{"s":8,"t":0.405,"i":-0.003},{"s":8,"t":0.4085,"i":0.000},{"s":8,"t":0.412,"i":-0.005},{"s":8,"t":0.4155,"i":0.002},{"s":8,"t":0.419,"i":-0.004},{"s":8,"t":0.4225,"i":-0.002},{"s":8,"t":0.426,"i":0.001},{"s":8,"t":0.4295,"i":-0.006},{"s":8,"t":0.433,"i":-0.003},{"s":8,"t":0.4365,"i":0.000},{"s":8,"t":0.44,"i":-0.005},{"s":8,"t":0.4435,"i":0.003},{"s":8,"t":0.447,"i":-0.004},{"s":8,"t":0.4505,"i":-0.001},{"s":8,"t":0.454,"i":-0.006},{"s":8,"t":0.4575,"i":0.001},{"s":8,"t":0.461,"i":-0.002},{"s":8,"t":0.4645,"i":-0.004},{"s":8,"t":0.468,"i":0.002},{"s":8,"t":0.4715,"i":-0.005},{"s":8,"t":0.475,"i":-0.001},{"s":8,"t":0.4785,"i":0.000},{"s":8,"t":0.482,"i":-0.007},{"s":8,"t":0.4855,"i":0.001},{"s":8,"t":0.489,"i":-0.004},{"s":8,"t":0.4925,"i":-0.001},{"s":8,"t":0.496,"i":-0.005},{"s":8,"t":0.4995,"i":0.002},{"s":8,"t":0.503,"i":-0.003},{"s":8,"t":0.5065,"i":0.000},{"s":8,"t":0.51,"i":-0.006},{"s":8,"t":0.5135,"i":-0.002},{"s":8,"t":0.517,"i":0.001},{"s":8,"t":0.5205,"i":-0.005},{"s":8,"t":0.524,"i":-0.001},{"s":8,"t":0.5275,"i":-0.004},{"s":8,"t":0.531,"i":0.003},{"s":8,"t":0.5345,"i":-0.006},{"s":8,"t":0.538,"i":0.000},{"s":8,"t":0.5415,"i":-0.003},{"s":8,"t":0.545,"i":-0.005},{"s":8,"t":0.5485,"i":0.002},{"s":8,"t":0.552,"i":-0.004},{"s":8,"t":0.5555,"i":0.001},{"s":8,"t":0.559,"i":-0.001},{"s":8,"t":0.5625,"i":-0.007},{"s":8,"t":0.566,"i":0.000},{"s":8,"t":0.5695,"i":-0.005},{"s":8,"t":0.573,"i":0.002},{"s":8,"t":0.5765,"i":-0.004},{"s":8,"t":0.58,"i":-0.002},{"s":8,"t":0.5835,"i":0.001},{"s":8,"t":0.587,"i":-0.006},{"s":8,"t":0.5905,"i":0.000},{"s":8,"t":0.594,"i":-0.005},{"s":8,"t":0.5975,"i":-0.001},
{"s":8,"t":0.5995,"i":-0.002},
{"s":8,"t":0.6005,"i":-0.004},{"s":8,"t":0.605,"i":0.000},{"s":8,"t":0.611,"i":-0.004},{"s":8,"t":0.617,"i":0.002},{"s":8,"t":0.623,"i":-0.006},{"s":8,"t":0.629,"i":0.001},{"s":8,"t":0.635,"i":-0.002},{"s":8,"t":0.641,"i":0.003},{"s":8,"t":0.647,"i":-0.005},{"s":8,"t":0.653,"i":0.002},{"s":8,"t":0.659,"i":-0.003},{"s":8,"t":0.665,"i":0.004},{"s":8,"t":0.671,"i":-0.004},{"s":8,"t":0.677,"i":0.000},{"s":8,"t":0.683,"i":-0.005},{"s":8,"t":0.689,"i":0.001},{"s":8,"t":0.695,"i":-0.004},

{"s":9,"t":0.002,"i":-0.001},{"s":9,"t":0.007,"i":0.003},{"s":9,"t":0.012,"i":-0.003},{"s":9,"t":0.017,"i":0.005},{"s":9,"t":0.022,"i":-0.002},{"s":9,"t":0.027,"i":0.001},{"s":9,"t":0.032,"i":-0.004},{"s":9,"t":0.037,"i":0.004},{"s":9,"t":0.042,"i":-0.009},{"s":9,"t":0.047,"i":-0.006},{"s":9,"t":0.052,"i":-0.005},{"s":9,"t":0.057,"i":0.003},{"s":9,"t":0.062,"i":-0.001},{"s":9,"t":0.067,"i":0.004},{"s":9,"t":0.072,"i":-0.002},{"s":9,"t":0.077,"i":0.003},{"s":9,"t":0.082,"i":-0.004},{"s":9,"t":0.087,"i":0.002},{"s":9,"t":0.092,"i":-0.005},{"s":9,"t":0.097,"i":0.004},{"s":9,"t":0.0995,"i":0.001},
{"s":9,"t":0.1,"i":0.182},{"s":9,"t":0.1015,"i":0.140},
{"s":9,"t":0.1035,"i":0.137},{"s":9,"t":0.111,"i":0.150},{"s":9,"t":0.1185,"i":0.140},{"s":9,"t":0.126,"i":0.148},{"s":9,"t":0.1335,"i":0.134},{"s":9,"t":0.141,"i":0.147},{"s":9,"t":0.1485,"i":0.137},{"s":9,"t":0.156,"i":0.150},{"s":9,"t":0.1635,"i":0.141},{"s":9,"t":0.171,"i":0.153},{"s":9,"t":0.1785,"i":0.139},{"s":9,"t":0.186,"i":0.146},{"s":9,"t":0.1935,"i":0.137},{"s":9,"t":0.201,"i":0.150},{"s":9,"t":0.2085,"i":0.141},{"s":9,"t":0.216,"i":0.154},{"s":9,"t":0.2235,"i":0.139},{"s":9,"t":0.231,"i":0.150},{"s":9,"t":0.2385,"i":0.143},{"s":9,"t":0.246,"i":0.154},{"s":9,"t":0.2535,"i":0.149},{"s":9,"t":0.261,"i":0.138},{"s":9,"t":0.2685,"i":0.154},{"s":9,"t":0.276,"i":0.143},{"s":9,"t":0.2835,"i":0.153},{"s":9,"t":0.291,"i":0.140},{"s":9,"t":0.2985,"i":0.151},{"s":9,"t":0.306,"i":0.157},{"s":9,"t":0.3135,"i":0.143},{"s":9,"t":0.321,"i":0.153},{"s":9,"t":0.3285,"i":0.139},{"s":9,"t":0.336,"i":0.156},{"s":9,"t":0.3435,"i":0.148},{"s":9,"t":0.351,"i":0.156},{"s":9,"t":0.3585,"i":0.143},{"s":9,"t":0.366,"i":0.158},{"s":9,"t":0.3735,"i":0.148},{"s":9,"t":0.381,"i":0.156},{"s":9,"t":0.3885,"i":0.142},{"s":9,"t":0.396,"i":0.158},
{"s":9,"t":0.3995,"i":0.148},{"s":9,"t":0.4,"i":-0.013},{"s":9,"t":0.4015,"i":-0.011},
{"s":9,"t":0.405,"i":-0.012},{"s":9,"t":0.4085,"i":-0.014},{"s":9,"t":0.412,"i":-0.010},{"s":9,"t":0.4155,"i":-0.016},{"s":9,"t":0.419,"i":-0.007},{"s":9,"t":0.4225,"i":-0.015},{"s":9,"t":0.426,"i":-0.013},{"s":9,"t":0.4295,"i":-0.011},{"s":9,"t":0.433,"i":-0.017},{"s":9,"t":0.4365,"i":-0.010},{"s":9,"t":0.44,"i":-0.014},{"s":9,"t":0.4435,"i":-0.009},{"s":9,"t":0.447,"i":-0.018},{"s":9,"t":0.4505,"i":-0.012},{"s":9,"t":0.454,"i":-0.011},{"s":9,"t":0.4575,"i":-0.016},{"s":9,"t":0.461,"i":-0.009},{"s":9,"t":0.4645,"i":-0.015},{"s":9,"t":0.468,"i":-0.013},{"s":9,"t":0.4715,"i":-0.010},{"s":9,"t":0.475,"i":-0.017},{"s":9,"t":0.4785,"i":-0.008},{"s":9,"t":0.482,"i":-0.014},{"s":9,"t":0.4855,"i":-0.016},{"s":9,"t":0.489,"i":-0.011},{"s":9,"t":0.4925,"i":-0.015},{"s":9,"t":0.496,"i":-0.009},{"s":9,"t":0.4995,"i":-0.017},{"s":9,"t":0.503,"i":-0.012},{"s":9,"t":0.5065,"i":-0.010},{"s":9,"t":0.51,"i":-0.016},{"s":9,"t":0.5135,"i":-0.011},{"s":9,"t":0.517,"i":-0.011},{"s":9,"t":0.5205,"i":-0.016},{"s":9,"t":0.524,"i":-0.009},{"s":9,"t":0.5275,"i":-0.014},{"s":9,"t":0.531,"i":-0.010},{"s":9,"t":0.5345,"i":-0.017},{"s":9,"t":0.538,"i":-0.012},{"s":9,"t":0.5415,"i":-0.015},{"s":9,"t":0.545,"i":-0.008},{"s":9,"t":0.5485,"i":-0.016},{"s":9,"t":0.552,"i":-0.013},{"s":9,"t":0.5555,"i":-0.010},{"s":9,"t":0.559,"i":-0.017},{"s":9,"t":0.5625,"i":-0.011},{"s":9,"t":0.566,"i":-0.014},{"s":9,"t":0.5695,"i":-0.009},{"s":9,"t":0.573,"i":-0.016},{"s":9,"t":0.5765,"i":-0.012},{"s":9,"t":0.58,"i":-0.018},{"s":9,"t":0.5835,"i":-0.011},{"s":9,"t":0.587,"i":-0.010},{"s":9,"t":0.5905,"i":-0.015},{"s":9,"t":0.594,"i":-0.009},{"s":9,"t":0.5975,"i":-0.017},
{"s":9,"t":0.5995,"i":-0.012},
{"s":9,"t":0.6005,"i":0.002},{"s":9,"t":0.605,"i":-0.004},{"s":9,"t":0.611,"i":0.000},{"s":9,"t":0.617,"i":-0.005},{"s":9,"t":0.623,"i":0.003},{"s":9,"t":0.629,"i":-0.003},{"s":9,"t":0.635,"i":0.002},{"s":9,"t":0.641,"i":-0.006},{"s":9,"t":0.647,"i":0.001},{"s":9,"t":0.653,"i":-0.004},{"s":9,"t":0.659,"i":0.003},{"s":9,"t":0.665,"i":-0.002},{"s":9,"t":0.671,"i":0.002},{"s":9,"t":0.677,"i":-0.005},{"s":9,"t":0.683,"i":0.000},{"s":9,"t":0.689,"i":-0.004},{"s":9,"t":0.695,"i":0.001},

{"s":10,"t":0.002,"i":0.003},{"s":10,"t":0.007,"i":-0.001},{"s":10,"t":0.012,"i":0.004},{"s":10,"t":0.017,"i":-0.004},{"s":10,"t":0.022,"i":0.002},{"s":10,"t":0.027,"i":-0.003},{"s":10,"t":0.032,"i":0.005},{"s":10,"t":0.037,"i":-0.002},{"s":10,"t":0.042,"i":-0.003},{"s":10,"t":0.047,"i":-0.012},{"s":10,"t":0.052,"i":0.001},{"s":10,"t":0.057,"i":-0.003},{"s":10,"t":0.062,"i":0.004},{"s":10,"t":0.067,"i":-0.001},{"s":10,"t":0.072,"i":0.003},{"s":10,"t":0.077,"i":-0.002},{"s":10,"t":0.082,"i":0.004},{"s":10,"t":0.087,"i":-0.003},{"s":10,"t":0.092,"i":0.001},{"s":10,"t":0.097,"i":-0.005},{"s":10,"t":0.0995,"i":0.000},
{"s":10,"t":0.1,"i":0.194},{"s":10,"t":0.1015,"i":0.153},
{"s":10,"t":0.1035,"i":0.156},{"s":10,"t":0.111,"i":0.144},{"s":10,"t":0.1185,"i":0.153},{"s":10,"t":0.126,"i":0.139},{"s":10,"t":0.1335,"i":0.152},{"s":10,"t":0.141,"i":0.142},{"s":10,"t":0.1485,"i":0.158},{"s":10,"t":0.156,"i":0.144},{"s":10,"t":0.1635,"i":0.156},{"s":10,"t":0.171,"i":0.142},{"s":10,"t":0.1785,"i":0.152},{"s":10,"t":0.186,"i":0.144},{"s":10,"t":0.1935,"i":0.159},{"s":10,"t":0.201,"i":0.141},{"s":10,"t":0.2085,"i":0.155},{"s":10,"t":0.216,"i":0.148},{"s":10,"t":0.2235,"i":0.159},{"s":10,"t":0.231,"i":0.143},{"s":10,"t":0.2385,"i":0.158},{"s":10,"t":0.246,"i":0.147},{"s":10,"t":0.2535,"i":0.147},{"s":10,"t":0.261,"i":0.160},{"s":10,"t":0.2685,"i":0.150},{"s":10,"t":0.276,"i":0.162},{"s":10,"t":0.2835,"i":0.146},{"s":10,"t":0.291,"i":0.158},{"s":10,"t":0.2985,"i":0.144},{"s":10,"t":0.306,"i":0.160},{"s":10,"t":0.3135,"i":0.153},{"s":10,"t":0.321,"i":0.163},{"s":10,"t":0.3285,"i":0.148},{"s":10,"t":0.336,"i":0.158},{"s":10,"t":0.3435,"i":0.147},{"s":10,"t":0.351,"i":0.163},{"s":10,"t":0.3585,"i":0.152},{"s":10,"t":0.366,"i":0.166},{"s":10,"t":0.3735,"i":0.151},{"s":10,"t":0.381,"i":0.159},{"s":10,"t":0.3885,"i":0.149},{"s":10,"t":0.396,"i":0.162},
{"s":10,"t":0.3995,"i":0.158},{"s":10,"t":0.4,"i":-0.060},{"s":10,"t":0.4015,"i":-0.052},
{"s":10,"t":0.405,"i":-0.050},{"s":10,"t":0.4085,"i":-0.048},{"s":10,"t":0.412,"i":-0.051},{"s":10,"t":0.4155,"i":-0.047},{"s":10,"t":0.419,"i":-0.049},{"s":10,"t":0.4225,"i":-0.046},{"s":10,"t":0.426,"i":-0.047},{"s":10,"t":0.4295,"i":-0.043},{"s":10,"t":0.433,"i":-0.041},{"s":10,"t":0.4365,"i":-0.037},{"s":10,"t":0.44,"i":-0.034},{"s":10,"t":0.4435,"i":-0.030},{"s":10,"t":0.447,"i":-0.029},{"s":10,"t":0.4505,"i":-0.028},{"s":10,"t":0.454,"i":-0.022},{"s":10,"t":0.4575,"i":-0.024},{"s":10,"t":0.461,"i":-0.027},{"s":10,"t":0.4645,"i":-0.020},{"s":10,"t":0.468,"i":-0.025},{"s":10,"t":0.4715,"i":-0.022},{"s":10,"t":0.475,"i":-0.029},{"s":10,"t":0.4785,"i":-0.021},{"s":10,"t":0.482,"i":-0.026},{"s":10,"t":0.4855,"i":-0.023},{"s":10,"t":0.489,"i":-0.020},{"s":10,"t":0.4925,"i":-0.027},{"s":10,"t":0.496,"i":-0.024},{"s":10,"t":0.4995,"i":-0.022},{"s":10,"t":0.503,"i":-0.028},{"s":10,"t":0.5065,"i":-0.021},{"s":10,"t":0.51,"i":-0.026},{"s":10,"t":0.5135,"i":-0.023},{"s":10,"t":0.517,"i":-0.025},{"s":10,"t":0.5205,"i":-0.021},{"s":10,"t":0.524,"i":-0.026},{"s":10,"t":0.5275,"i":-0.020},{"s":10,"t":0.531,"i":-0.027},{"s":10,"t":0.5345,"i":-0.024},{"s":10,"t":0.538,"i":-0.022},{"s":10,"t":0.5415,"i":-0.028},{"s":10,"t":0.545,"i":-0.021},{"s":10,"t":0.5485,"i":-0.026},{"s":10,"t":0.552,"i":-0.019},{"s":10,"t":0.5555,"i":-0.025},{"s":10,"t":0.559,"i":-0.027},{"s":10,"t":0.5625,"i":-0.022},{"s":10,"t":0.566,"i":-0.028},{"s":10,"t":0.5695,"i":-0.021},{"s":10,"t":0.573,"i":-0.023},{"s":10,"t":0.5765,"i":-0.026},{"s":10,"t":0.58,"i":-0.020},{"s":10,"t":0.5835,"i":-0.029},{"s":10,"t":0.587,"i":-0.022},{"s":10,"t":0.5905,"i":-0.025},{"s":10,"t":0.594,"i":-0.021},{"s":10,"t":0.5975,"i":-0.027},
{"s":10,"t":0.5995,"i":-0.023},
{"s":10,"t":0.6005,"i":0.001},{"s":10,"t":0.605,"i":0.001},{"s":10,"t":0.611,"i":-0.004},{"s":10,"t":0.617,"i":0.003},{"s":10,"t":0.623,"i":-0.005},{"s":10,"t":0.629,"i":0.000},{"s":10,"t":0.635,"i":-0.003},{"s":10,"t":0.641,"i":0.004},{"s":10,"t":0.647,"i":-0.004},{"s":10,"t":0.653,"i":0.002},{"s":10,"t":0.659,"i":-0.002},{"s":10,"t":0.665,"i":0.003},{"s":10,"t":0.671,"i":-0.006},{"s":10,"t":0.677,"i":0.001},{"s":10,"t":0.683,"i":-0.005},{"s":10,"t":0.689,"i":0.002},{"s":10,"t":0.695,"i":-0.003},

{"s":11,"t":0.002,"i":0.001},{"s":11,"t":0.007,"i":-0.003},{"s":11,"t":0.012,"i":0.003},{"s":11,"t":0.017,"i":-0.005},{"s":11,"t":0.022,"i":0.002},{"s":11,"t":0.027,"i":-0.001},{"s":11,"t":0.032,"i":0.004},{"s":11,"t":0.037,"i":-0.004},{"s":11,"t":0.042,"i":-0.003},{"s":11,"t":0.047,"i":-0.010},{"s":11,"t":0.052,"i":0.005},{"s":11,"t":0.057,"i":-0.003},{"s":11,"t":0.062,"i":0.001},{"s":11,"t":0.067,"i":-0.004},{"s":11,"t":0.072,"i":0.002},{"s":11,"t":0.077,"i":-0.003},{"s":11,"t":0.082,"i":0.004},{"s":11,"t":0.087,"i":-0.002},{"s":11,"t":0.092,"i":0.005},{"s":11,"t":0.097,"i":-0.004},{"s":11,"t":0.0995,"i":-0.002},
{"s":11,"t":0.1,"i":0.187},{"s":11,"t":0.1015,"i":0.147},
{"s":11,"t":0.1035,"i":0.150},{"s":11,"t":0.111,"i":0.137},{"s":11,"t":0.1185,"i":0.147},{"s":11,"t":0.126,"i":0.139},{"s":11,"t":0.1335,"i":0.155},{"s":11,"t":0.141,"i":0.142},{"s":11,"t":0.1485,"i":0.152},{"s":11,"t":0.156,"i":0.139},{"s":11,"t":0.1635,"i":0.150},{"s":11,"t":0.171,"i":0.138},{"s":11,"t":0.1785,"i":0.152},{"s":11,"t":0.186,"i":0.145},{"s":11,"t":0.1935,"i":0.156},{"s":11,"t":0.201,"i":0.143},{"s":11,"t":0.2085,"i":0.152},{"s":11,"t":0.216,"i":0.139},{"s":11,"t":0.2235,"i":0.156},{"s":11,"t":0.231,"i":0.145},{"s":11,"t":0.2385,"i":0.152},{"s":11,"t":0.246,"i":0.141},{"s":11,"t":0.2535,"i":0.148},{"s":11,"t":0.261,"i":0.159},{"s":11,"t":0.2685,"i":0.143},{"s":11,"t":0.276,"i":0.154},{"s":11,"t":0.2835,"i":0.146},{"s":11,"t":0.291,"i":0.159},{"s":11,"t":0.2985,"i":0.148},{"s":11,"t":0.306,"i":0.142},{"s":11,"t":0.3135,"i":0.158},{"s":11,"t":0.321,"i":0.148},{"s":11,"t":0.3285,"i":0.162},{"s":11,"t":0.336,"i":0.145},{"s":11,"t":0.3435,"i":0.155},{"s":11,"t":0.351,"i":0.147},{"s":11,"t":0.3585,"i":0.160},{"s":11,"t":0.366,"i":0.145},{"s":11,"t":0.3735,"i":0.157},{"s":11,"t":0.381,"i":0.149},{"s":11,"t":0.3885,"i":0.163},{"s":11,"t":0.396,"i":0.147},
{"s":11,"t":0.3995,"i":0.154},{"s":11,"t":0.4,"i":-0.070},{"s":11,"t":0.4015,"i":-0.036},
{"s":11,"t":0.405,"i":-0.034},{"s":11,"t":0.4085,"i":-0.032},{"s":11,"t":0.412,"i":-0.036},{"s":11,"t":0.4155,"i":-0.030},{"s":11,"t":0.419,"i":-0.039},{"s":11,"t":0.4225,"i":-0.031},{"s":11,"t":0.426,"i":-0.033},{"s":11,"t":0.4295,"i":-0.035},{"s":11,"t":0.433,"i":-0.029},{"s":11,"t":0.4365,"i":-0.036},{"s":11,"t":0.44,"i":-0.032},{"s":11,"t":0.4435,"i":-0.037},{"s":11,"t":0.447,"i":-0.028},{"s":11,"t":0.4505,"i":-0.034},{"s":11,"t":0.454,"i":-0.035},{"s":11,"t":0.4575,"i":-0.030},{"s":11,"t":0.461,"i":-0.037},{"s":11,"t":0.4645,"i":-0.031},{"s":11,"t":0.468,"i":-0.033},{"s":11,"t":0.4715,"i":-0.036},{"s":11,"t":0.475,"i":-0.029},{"s":11,"t":0.4785,"i":-0.038},{"s":11,"t":0.482,"i":-0.032},{"s":11,"t":0.4855,"i":-0.030},{"s":11,"t":0.489,"i":-0.035},{"s":11,"t":0.4925,"i":-0.031},{"s":11,"t":0.496,"i":-0.037},{"s":11,"t":0.4995,"i":-0.029},{"s":11,"t":0.503,"i":-0.034},{"s":11,"t":0.5065,"i":-0.036},{"s":11,"t":0.51,"i":-0.030},{"s":11,"t":0.5135,"i":-0.035},{"s":11,"t":0.517,"i":-0.035},{"s":11,"t":0.5205,"i":-0.030},{"s":11,"t":0.524,"i":-0.037},{"s":11,"t":0.5275,"i":-0.032},{"s":11,"t":0.531,"i":-0.036},{"s":11,"t":0.5345,"i":-0.029},{"s":11,"t":0.538,"i":-0.034},{"s":11,"t":0.5415,"i":-0.031},{"s":11,"t":0.545,"i":-0.038},{"s":11,"t":0.5485,"i":-0.030},{"s":11,"t":0.552,"i":-0.033},{"s":11,"t":0.5555,"i":-0.036},{"s":11,"t":0.559,"i":-0.029},{"s":11,"t":0.5625,"i":-0.035},{"s":11,"t":0.566,"i":-0.032},{"s":11,"t":0.5695,"i":-0.037},{"s":11,"t":0.573,"i":-0.030},{"s":11,"t":0.5765,"i":-0.034},{"s":11,"t":0.58,"i":-0.028},{"s":11,"t":0.5835,"i":-0.035},{"s":11,"t":0.587,"i":-0.036},{"s":11,"t":0.5905,"i":-0.031},{"s":11,"t":0.594,"i":-0.037},{"s":11,"t":0.5975,"i":-0.029},
{"s":11,"t":0.5995,"i":-0.034},
{"s":11,"t":0.6005,"i":-0.002},{"s":11,"t":0.605,"i":0.002},{"s":11,"t":0.611,"i":-0.005},{"s":11,"t":0.617,"i":0.001},{"s":11,"t":0.623,"i":-0.006},{"s":11,"t":0.629,"i":0.003},{"s":11,"t":0.635,"i":-0.002},{"s":11,"t":0.641,"i":0.002},{"s":11,"t":0.647,"i":-0.004},{"s":11,"t":0.653,"i":0.004},{"s":11,"t":0.659,"i":-0.003},{"s":11,"t":0.665,"i":0.000},{"s":11,"t":0.671,"i":-0.005},{"s":11,"t":0.677,"i":0.003},{"s":11,"t":0.683,"i":-0.004},{"s":11,"t":0.689,"i":0.001},{"s":11,"t":0.695,"i":-0.006},

{"s":12,"t":0.002,"i":-0.003},{"s":12,"t":0.007,"i":0.001},{"s":12,"t":0.012,"i":-0.004},{"s":12,"t":0.017,"i":0.004},{"s":12,"t":0.022,"i":-0.002},{"s":12,"t":0.027,"i":0.003},{"s":12,"t":0.032,"i":-0.005},{"s":12,"t":0.037,"i":0.002},{"s":12,"t":0.042,"i":-0.009},{"s":12,"t":0.047,"i":-0.004},{"s":12,"t":0.052,"i":-0.001},{"s":12,"t":0.057,"i":0.003},{"s":12,"t":0.062,"i":-0.004},{"s":12,"t":0.067,"i":0.001},{"s":12,"t":0.072,"i":-0.003},{"s":12,"t":0.077,"i":0.002},{"s":12,"t":0.082,"i":-0.004},{"s":12,"t":0.087,"i":0.003},{"s":12,"t":0.092,"i":-0.001},{"s":12,"t":0.097,"i":0.005},{"s":12,"t":0.0995,"i":0.002},
{"s":12,"t":0.1,"i":0.196},{"s":12,"t":0.1015,"i":0.155},
{"s":12,"t":0.1035,"i":0.144},{"s":12,"t":0.111,"i":0.157},{"s":12,"t":0.1185,"i":0.147},{"s":12,"t":0.126,"i":0.155},{"s":12,"t":0.1335,"i":0.140},{"s":12,"t":0.141,"i":0.154},{"s":12,"t":0.1485,"i":0.143},{"s":12,"t":0.156,"i":0.159},{"s":12,"t":0.1635,"i":0.148},{"s":12,"t":0.171,"i":0.158},{"s":12,"t":0.1785,"i":0.143},{"s":12,"t":0.186,"i":0.153},{"s":12,"t":0.1935,"i":0.146},{"s":12,"t":0.201,"i":0.162},{"s":12,"t":0.2085,"i":0.148},{"s":12,"t":0.216,"i":0.160},{"s":12,"t":0.2235,"i":0.144},{"s":12,"t":0.231,"i":0.156},{"s":12,"t":0.2385,"i":0.146},{"s":12,"t":0.246,"i":0.159},{"s":12,"t":0.2535,"i":0.159},{"s":12,"t":0.261,"i":0.148},{"s":12,"t":0.2685,"i":0.163},{"s":12,"t":0.276,"i":0.147},{"s":12,"t":0.2835,"i":0.158},{"s":12,"t":0.291,"i":0.151},{"s":12,"t":0.2985,"i":0.165},{"s":12,"t":0.306,"i":0.147},{"s":12,"t":0.3135,"i":0.162},{"s":12,"t":0.321,"i":0.154},{"s":12,"t":0.3285,"i":0.164},{"s":12,"t":0.336,"i":0.150},{"s":12,"t":0.3435,"i":0.162},{"s":12,"t":0.351,"i":0.148},{"s":12,"t":0.3585,"i":0.164},{"s":12,"t":0.366,"i":0.154},{"s":12,"t":0.3735,"i":0.167},{"s":12,"t":0.381,"i":0.153},{"s":12,"t":0.3885,"i":0.162},{"s":12,"t":0.396,"i":0.150},
{"s":12,"t":0.3995,"i":0.157},{"s":12,"t":0.4,"i":-0.085},{"s":12,"t":0.4015,"i":-0.044},
{"s":12,"t":0.405,"i":-0.041},{"s":12,"t":0.4085,"i":-0.045},{"s":12,"t":0.412,"i":-0.039},{"s":12,"t":0.4155,"i":-0.042},{"s":12,"t":0.419,"i":-0.037},{"s":12,"t":0.4225,"i":-0.044},{"s":12,"t":0.426,"i":-0.040},{"s":12,"t":0.4295,"i":-0.043},{"s":12,"t":0.433,"i":-0.038},{"s":12,"t":0.4365,"i":-0.046},{"s":12,"t":0.44,"i":-0.039},{"s":12,"t":0.4435,"i":-0.040},{"s":12,"t":0.447,"i":-0.044},{"s":12,"t":0.4505,"i":-0.037},{"s":12,"t":0.454,"i":-0.043},{"s":12,"t":0.4575,"i":-0.041},{"s":12,"t":0.461,"i":-0.038},{"s":12,"t":0.4645,"i":-0.045},{"s":12,"t":0.468,"i":-0.040},{"s":12,"t":0.4715,"i":-0.043},{"s":12,"t":0.475,"i":-0.036},{"s":12,"t":0.4785,"i":-0.044},{"s":12,"t":0.482,"i":-0.039},{"s":12,"t":0.4855,"i":-0.042},{"s":12,"t":0.489,"i":-0.045},{"s":12,"t":0.4925,"i":-0.038},{"s":12,"t":0.496,"i":-0.041},{"s":12,"t":0.4995,"i":-0.043},{"s":12,"t":0.503,"i":-0.037},{"s":12,"t":0.5065,"i":-0.044},{"s":12,"t":0.51,"i":-0.039},{"s":12,"t":0.5135,"i":-0.042},{"s":12,"t":0.517,"i":-0.040},{"s":12,"t":0.5205,"i":-0.044},{"s":12,"t":0.524,"i":-0.039},{"s":12,"t":0.5275,"i":-0.045},{"s":12,"t":0.531,"i":-0.038},{"s":12,"t":0.5345,"i":-0.041},{"s":12,"t":0.538,"i":-0.043},{"s":12,"t":0.5415,"i":-0.037},{"s":12,"t":0.545,"i":-0.044},{"s":12,"t":0.5485,"i":-0.039},{"s":12,"t":0.552,"i":-0.046},{"s":12,"t":0.5555,"i":-0.040},{"s":12,"t":0.559,"i":-0.038},{"s":12,"t":0.5625,"i":-0.043},{"s":12,"t":0.566,"i":-0.037},{"s":12,"t":0.5695,"i":-0.044},{"s":12,"t":0.573,"i":-0.042},{"s":12,"t":0.5765,"i":-0.039},{"s":12,"t":0.58,"i":-0.045},{"s":12,"t":0.5835,"i":-0.036},{"s":12,"t":0.587,"i":-0.043},{"s":12,"t":0.5905,"i":-0.040},{"s":12,"t":0.594,"i":-0.044},{"s":12,"t":0.5975,"i":-0.038},
{"s":12,"t":0.5995,"i":-0.040},
{"s":12,"t":0.6005,"i":-0.003},{"s":12,"t":0.605,"i":-0.003},{"s":12,"t":0.611,"i":0.003},{"s":12,"t":0.617,"i":-0.004},{"s":12,"t":0.623,"i":0.000},{"s":12,"t":0.629,"i":-0.006},{"s":12,"t":0.635,"i":0.002},{"s":12,"t":0.641,"i":-0.002},{"s":12,"t":0.647,"i":0.003},{"s":12,"t":0.653,"i":-0.005},{"s":12,"t":0.659,"i":0.001},{"s":12,"t":0.665,"i":-0.004},{"s":12,"t":0.671,"i":0.004},{"s":12,"t":0.677,"i":-0.003},{"s":12,"t":0.683,"i":0.002},{"s":12,"t":0.689,"i":-0.005},{"s":12,"t":0.695,"i":0.000},

{"s":13,"t":0.002,"i":0.002},{"s":13,"t":0.007,"i":-0.003},{"s":13,"t":0.012,"i":0.004},{"s":13,"t":0.017,"i":-0.004},{"s":13,"t":0.022,"i":0.001},{"s":13,"t":0.027,"i":-0.002},{"s":13,"t":0.032,"i":0.005},{"s":13,"t":0.037,"i":-0.003},{"s":13,"t":0.042,"i":-0.003},{"s":13,"t":0.047,"i":-0.009},{"s":13,"t":0.052,"i":0.004},{"s":13,"t":0.057,"i":-0.005},{"s":13,"t":0.062,"i":0.002},{"s":13,"t":0.067,"i":-0.004},{"s":13,"t":0.072,"i":0.003},{"s":13,"t":0.077,"i":-0.002},{"s":13,"t":0.082,"i":0.004},{"s":13,"t":0.087,"i":-0.001},{"s":13,"t":0.092,"i":0.003},{"s":13,"t":0.097,"i":-0.005},{"s":13,"t":0.0995,"i":0.001},
{"s":13,"t":0.1,"i":0.190},{"s":13,"t":0.1015,"i":0.143},
{"s":13,"t":0.1035,"i":0.135},{"s":13,"t":0.111,"i":0.146},{"s":13,"t":0.1185,"i":0.139},{"s":13,"t":0.126,"i":0.150},{"s":13,"t":0.1335,"i":0.135},{"s":13,"t":0.141,"i":0.148},{"s":13,"t":0.1485,"i":0.139},{"s":13,"t":0.156,"i":0.152},{"s":13,"t":0.1635,"i":0.143},{"s":13,"t":0.171,"i":0.150},{"s":13,"t":0.1785,"i":0.136},{"s":13,"t":0.186,"i":0.148},{"s":13,"t":0.1935,"i":0.139},{"s":13,"t":0.201,"i":0.152},{"s":13,"t":0.2085,"i":0.142},{"s":13,"t":0.216,"i":0.155},{"s":13,"t":0.2235,"i":0.141},{"s":13,"t":0.231,"i":0.149},{"s":13,"t":0.2385,"i":0.139},{"s":13,"t":0.246,"i":0.152},{"s":13,"t":0.2535,"i":0.141},{"s":13,"t":0.261,"i":0.157},{"s":13,"t":0.2685,"i":0.143},{"s":13,"t":0.276,"i":0.151},{"s":13,"t":0.2835,"i":0.141},{"s":13,"t":0.291,"i":0.156},{"s":13,"t":0.2985,"i":0.143},{"s":13,"t":0.306,"i":0.151},{"s":13,"t":0.3135,"i":0.143},{"s":13,"t":0.321,"i":0.160},{"s":13,"t":0.3285,"i":0.146},{"s":13,"t":0.336,"i":0.156},{"s":13,"t":0.3435,"i":0.142},{"s":13,"t":0.351,"i":0.148},{"s":13,"t":0.3585,"i":0.159},{"s":13,"t":0.366,"i":0.146},{"s":13,"t":0.3735,"i":0.156},{"s":13,"t":0.381,"i":0.145},{"s":13,"t":0.3885,"i":0.161},{"s":13,"t":0.396,"i":0.150},
{"s":13,"t":0.3995,"i":0.152},{"s":13,"t":0.4,"i":-0.103},{"s":13,"t":0.4015,"i":-0.060},
{"s":13,"t":0.405,"i":-0.051},{"s":13,"t":0.4085,"i":-0.053},{"s":13,"t":0.412,"i":-0.055},{"s":13,"t":0.4155,"i":-0.047},{"s":13,"t":0.419,"i":-0.056},{"s":13,"t":0.4225,"i":-0.050},{"s":13,"t":0.426,"i":-0.054},{"s":13,"t":0.4295,"i":-0.052},{"s":13,"t":0.433,"i":-0.057},{"s":13,"t":0.4365,"i":-0.049},{"s":13,"t":0.44,"i":-0.055},{"s":13,"t":0.4435,"i":-0.050},{"s":13,"t":0.447,"i":-0.051},{"s":13,"t":0.4505,"i":-0.058},{"s":13,"t":0.454,"i":-0.052},{"s":13,"t":0.4575,"i":-0.056},{"s":13,"t":0.461,"i":-0.049},{"s":13,"t":0.4645,"i":-0.054},{"s":13,"t":0.468,"i":-0.051},{"s":13,"t":0.4715,"i":-0.057},{"s":13,"t":0.475,"i":-0.050},{"s":13,"t":0.4785,"i":-0.053},{"s":13,"t":0.482,"i":-0.056},{"s":13,"t":0.4855,"i":-0.048},{"s":13,"t":0.489,"i":-0.055},{"s":13,"t":0.4925,"i":-0.052},{"s":13,"t":0.496,"i":-0.057},{"s":13,"t":0.4995,"i":-0.050},{"s":13,"t":0.503,"i":-0.054},{"s":13,"t":0.5065,"i":-0.049},{"s":13,"t":0.51,"i":-0.056},{"s":13,"t":0.5135,"i":-0.051},{"s":13,"t":0.517,"i":-0.051},{"s":13,"t":0.5205,"i":-0.056},{"s":13,"t":0.524,"i":-0.050},{"s":13,"t":0.5275,"i":-0.052},{"s":13,"t":0.531,"i":-0.057},{"s":13,"t":0.5345,"i":-0.049},{"s":13,"t":0.538,"i":-0.055},{"s":13,"t":0.5415,"i":-0.051},{"s":13,"t":0.545,"i":-0.056},{"s":13,"t":0.5485,"i":-0.054},{"s":13,"t":0.552,"i":-0.048},{"s":13,"t":0.5555,"i":-0.057},{"s":13,"t":0.559,"i":-0.050},{"s":13,"t":0.5625,"i":-0.053},{"s":13,"t":0.566,"i":-0.055},{"s":13,"t":0.5695,"i":-0.049},{"s":13,"t":0.573,"i":-0.056},{"s":13,"t":0.5765,"i":-0.051},{"s":13,"t":0.58,"i":-0.052},{"s":13,"t":0.5835,"i":-0.058},{"s":13,"t":0.587,"i":-0.049},{"s":13,"t":0.5905,"i":-0.054},{"s":13,"t":0.594,"i":-0.050},{"s":13,"t":0.5975,"i":-0.057},
{"s":13,"t":0.5995,"i":-0.052},
{"s":13,"t":0.6005,"i":-0.001},{"s":13,"t":0.605,"i":-0.004},{"s":13,"t":0.611,"i":0.003},{"s":13,"t":0.617,"i":-0.003},{"s":13,"t":0.623,"i":0.004},{"s":13,"t":0.629,"i":-0.005},{"s":13,"t":0.635,"i":0.000},{"s":13,"t":0.641,"i":-0.004},{"s":13,"t":0.647,"i":0.002},{"s":13,"t":0.653,"i":-0.006},{"s":13,"t":0.659,"i":0.001},{"s":13,"t":0.665,"i":-0.002},{"s":13,"t":0.671,"i":0.003},{"s":13,"t":0.677,"i":-0.005},{"s":13,"t":0.683,"i":0.002},{"s":13,"t":0.689,"i":-0.003},{"s":13,"t":0.695,"i":0.004}
    ],
    "notes": [
      {"t": 0.6955, "i": 0.2307, "label": "25 °C\u00a0 Deactivation"}
    ],
    "side": [
      {"t": 0.7128, "i": 0.0504, "label": "BBP Channelpedia ID 34258 rep 2"}
    ]
  },
  "layer": [
    {
      "data": {"name": "traces"},
      "mark": {"type": "line", "color": "#000000", "strokeWidth": 1.1, "clip": true},
      "encoding": {
        "x": {
          "field": "t",
          "type": "quantitative",
          "scale": {"domain": [0.002, 0.699], "nice": false, "zero": false},
          "axis": {
            "title": "t [s]",
            "values": [0.1, 0.4, 0.6],
            "format": ".1f",
            "labelFontSize": 22,
            "titleFontSize": 25,
            "tickSize": -6,
            "labelPadding": 15,
            "titlePadding": 12
          }
        },
        "y": {
          "field": "i",
          "type": "quantitative",
          "scale": {"domain": [-0.1346, 0.2339], "nice": false, "zero": false},
          "axis": {
            "title": "I [nA]",
            "values": [-0.1, 0, 0.1, 0.2],
            "labelExpr": "datum.value == 0 ? '0' : datum.value < 0 ? '-' + format(-datum.value, '.1f') : format(datum.value, '.1f')",
            "labelFontSize": 22,
            "titleFontSize": 25,
            "tickSize": -6,
            "labelPadding": 23,
            "titlePadding": 4
          }
        },
        "detail": {"field": "s", "type": "nominal"}
      }
    },
    {
      "data": {"name": "notes"},
      "mark": {"type": "text", "align": "right", "baseline": "alphabetic", "font": "DejaVu Sans", "fontSize": 19, "color": "#000000"},
      "encoding": {
        "x": {"field": "t", "type": "quantitative"},
        "y": {"field": "i", "type": "quantitative"},
        "text": {"field": "label"}
      }
    },
    {
      "data": {"name": "side"},
      "mark": {"type": "text", "align": "center", "baseline": "middle", "angle": 270, "font": "DejaVu Sans", "fontSize": 13.5, "color": "#000000"},
      "encoding": {
        "x": {"field": "t", "type": "quantitative"},
        "y": {"field": "i", "type": "quantitative"},
        "text": {"field": "label"}
      }
    }
  ]
}
